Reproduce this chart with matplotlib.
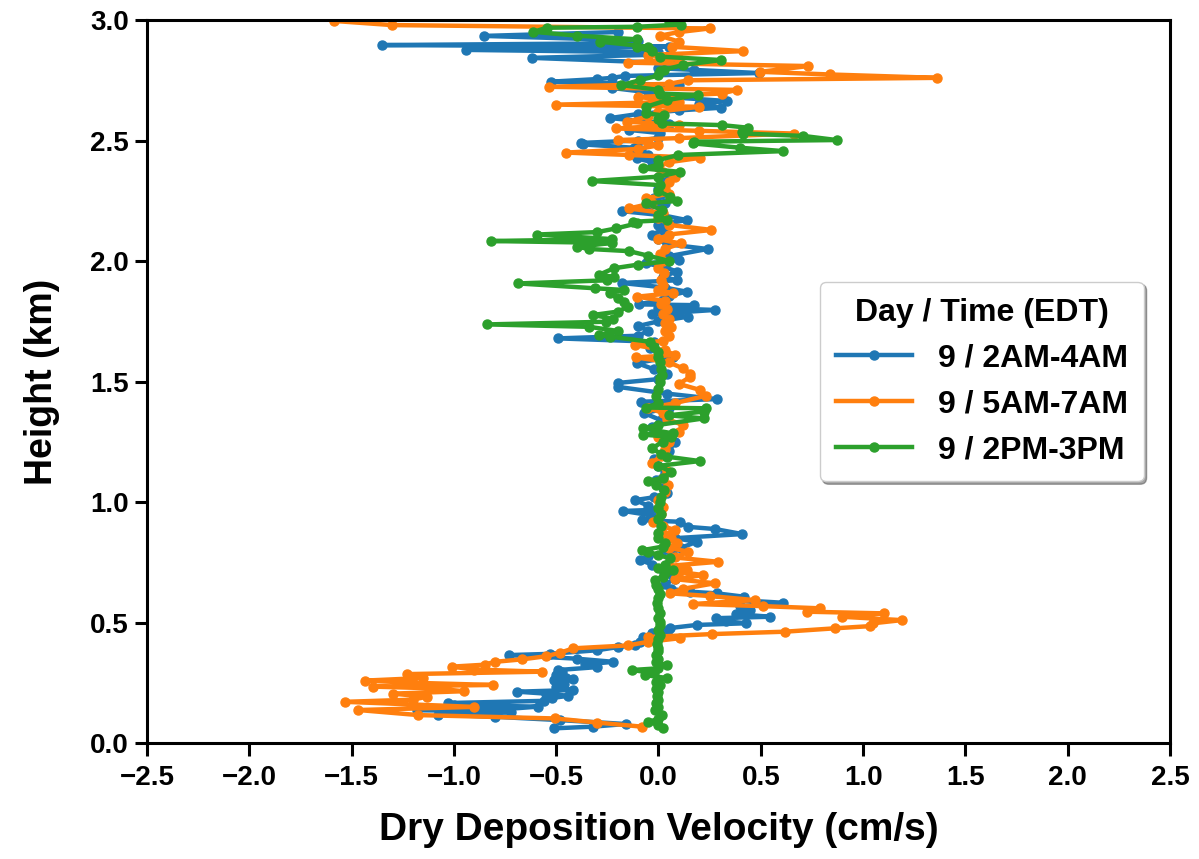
import numpy as np
import matplotlib.pyplot as plt

# ---------------------------------------------------------
# Profiles: (height km, velocity cm/s)
# ---------------------------------------------------------

labels = ["9 / 2AM-4AM", "9 / 5AM-7AM", "9 / 2PM-3PM"]

prof_2am = [
    (0.061, -0.51), (0.068, -0.32), (0.079, -0.16), (0.095, -0.48), (0.109, -0.80),
    (0.118, -1.08), (0.128, -0.72), (0.137, -1.18), (0.142, -0.73), (0.151, -0.59),
    (0.158, -1.00), (0.166, -1.03), (0.175, -0.56), (0.187, -0.52), (0.196, -0.44),
    (0.205, -0.55), (0.213, -0.69), (0.220, -0.42), (0.232, -0.50), (0.245, -0.46),
    (0.260, -0.51), (0.265, -0.42), (0.270, -0.45), (0.282, -0.50), (0.294, -0.47),
    (0.303, -0.49), (0.315, -0.30), (0.326, -0.36), (0.337, -0.22), (0.350, -0.40),
    (0.365, -0.73), (0.370, -0.53), (0.385, -0.30), (0.398, -0.20), (0.407, -0.115),
    (0.420, -0.09), (0.440, -0.076), (0.455, -0.03), (0.469, 0.047), (0.477, 0.055),
    (0.490, 0.187), (0.497, 0.43), (0.505, 0.33), (0.518, 0.28), (0.524, 0.545),
    (0.535, 0.38), (0.552, 0.447), (0.568, 0.40), (0.582, 0.61), (0.595, 0.35),
    (0.607, 0.42), (0.621, 0.285), (0.628, 0.154), (0.640, 0.06), (0.660, 0.03),
    (0.680, 0.08), (0.700, 0.06), (0.720, 0.02), (0.740, -0.03), (0.760, -0.09),
    (0.775, -0.05), (0.794, 0.064), (0.810, 0.11), (0.835, 0.187), (0.850, 0.08),
    (0.867, 0.41), (0.888, 0.276), (0.897, 0.144), (0.918, 0.105), (0.925, -0.082),
    (0.940, 0.00), (0.963, -0.173), (0.967, -0.04), (0.985, -0.05), (1.008, -0.115),
    (1.020, -0.02), (1.037, 0.04), (1.060, 0.02), (1.090, -0.01), (1.120, 0.03),
    (1.150, 0.00), (1.180, -0.02), (1.210, 0.05), (1.250, 0.08), (1.280, 0.02),
    (1.310, -0.03), (1.340, 0.01), (1.369, -0.07), (1.390, 0.05), (1.416, -0.087),
    (1.427, 0.286), (1.450, 0.04), (1.478, -0.20), (1.494, -0.20), (1.510, 0.00),
    (1.530, 0.04), (1.550, -0.02), (1.577, -0.106), (1.603, 0.07), (1.620, 0.02),
    (1.640, -0.04), (1.665, -0.02), (1.679, -0.49), (1.690, -0.10), (1.710, -0.05),
    (1.730, -0.10), (1.750, 0.00), (1.769, 0.144), (1.780, -0.03), (1.797, 0.276),
    (1.805, 0.00), (1.817, 0.173), (1.820, -0.097), (1.840, 0.02), (1.855, 0.05),
    (1.873, 0.137), (1.890, 0.03), (1.909, -0.18), (1.920, 0.09), (1.935, 0.02),
    (1.956, 0.09), (1.975, 0.03), (1.990, -0.06), (2.004, 0.10), (2.020, 0.05),
    (2.050, 0.24), (2.070, 0.04), (2.090, 0.00), (2.110, -0.03), (2.130, 0.02),
    (2.150, 0.00), (2.170, 0.137), (2.190, 0.02), (2.207, -0.18), (2.220, -0.05),
    (2.240, 0.03), (2.260, -0.02), (2.280, 0.01), (2.300, 0.00), (2.330, 0.02),
    (2.360, 0.03), (2.390, 0.00), (2.410, -0.03), (2.426, -0.106), (2.440, -0.05),
    (2.460, -0.087), (2.470, -0.12), (2.484, -0.37), (2.490, -0.38), (2.500, -0.10),
    (2.510, 0.00), (2.531, 0.006), (2.544, -0.144), (2.560, -0.05), (2.570, 0.05),
    (2.593, -0.237), (2.610, -0.10), (2.625, 0.10), (2.636, 0.306), (2.650, 0.20),
    (2.664, 0.333), (2.680, 0.05), (2.700, -0.05), (2.718, -0.227), (2.730, 0.10),
    (2.744, -0.527), (2.755, -0.30), (2.760, -0.227), (2.768, -0.164), (2.780, 0.49),
    (2.793, 0.173), (2.800, 0.00), (2.820, 0.10), (2.843, -0.62), (2.855, -0.05),
    (2.866, 0.00), (2.876, -0.94), (2.890, 0.05), (2.896, -1.35), (2.903, -0.257),
    (2.915, -0.10), (2.934, -0.854), (2.950, -0.20),
]

prof_5am = [
    (0.068, -0.082), (0.085, -0.30), (0.102, -0.506), (0.116, -1.174), (0.137, -1.467),
    (0.150, -0.90), (0.171, -1.532), (0.180, -1.20), (0.192, -1.133), (0.205, -1.30),
    (0.215, -0.95), (0.227, -1.10), (0.234, -1.394), (0.241, -0.81), (0.250, -1.20),
    (0.259, -1.435), (0.270, -1.15), (0.286, -1.231), (0.296, -0.571), (0.305, -0.90),
    (0.317, -1.01), (0.325, -0.85), (0.337, -0.80), (0.347, -0.669), (0.360, -0.55),
    (0.375, -0.48), (0.393, -0.416), (0.405, -0.15), (0.420, -0.05), (0.435, 0.105),
    (0.440, -0.05), (0.452, 0.26), (0.462, 0.618), (0.476, 0.862), (0.485, 1.033),
    (0.497, 1.05), (0.510, 1.189), (0.524, 0.895), (0.538, 1.10), (0.545, 0.724),
    (0.559, 0.789), (0.568, 0.512), (0.577, 0.17), (0.593, 0.472), (0.610, 0.252),
    (0.621, 0.056), (0.640, 0.12), (0.663, 0.276), (0.680, 0.08), (0.697, 0.219),
    (0.710, 0.10), (0.720, 0.138), (0.735, 0.05), (0.752, 0.292), (0.770, 0.08),
    (0.794, 0.146), (0.810, 0.05), (0.830, 0.09), (0.850, 0.06), (0.865, 0.03),
    (0.884, 0.08), (0.900, 0.02), (0.918, -0.025), (0.950, 0.01), (0.980, 0.02),
    (1.010, 0.00), (1.040, 0.03), (1.071, 0.048), (1.100, 0.02), (1.130, 0.04),
    (1.162, -0.032), (1.190, 0.01), (1.220, 0.03), (1.250, 0.05), (1.270, 0.00),
    (1.292, 0.10), (1.320, 0.118), (1.345, 0.04), (1.370, 0.02), (1.390, -0.05),
    (1.410, 0.08), (1.441, 0.231), (1.465, 0.203), (1.490, 0.10), (1.520, 0.156),
    (1.533, 0.156), (1.555, 0.118), (1.580, 0.05), (1.600, -0.11), (1.610, 0.08),
    (1.630, 0.03), (1.651, -0.115), (1.670, 0.02), (1.690, 0.05), (1.710, 0.03),
    (1.725, 0.06), (1.743, 0.034), (1.760, 0.05), (1.780, 0.02), (1.800, 0.04),
    (1.820, 0.01), (1.835, 0.03), (1.852, -0.106), (1.867, 0.07), (1.880, 0.00),
    (1.900, 0.02), (1.920, 0.01), (1.949, 0.025), (1.970, 0.00), (2.000, 0.02),
    (2.028, 0.006), (2.050, 0.03), (2.073, 0.109), (2.090, 0.00), (2.110, 0.05),
    (2.129, 0.259), (2.150, 0.05), (2.180, 0.00), (2.200, 0.02), (2.218, -0.144),
    (2.240, -0.03), (2.260, -0.06), (2.280, 0.05), (2.300, 0.03), (2.329, 0.051),
    (2.350, 0.08), (2.370, 0.02), (2.390, 0.00), (2.410, 0.05), (2.428, 0.203),
    (2.440, -0.144), (2.450, -0.452), (2.465, -0.10), (2.480, 0.00), (2.490, -0.05),
    (2.502, -0.20), (2.510, 0.10), (2.529, 0.661), (2.540, 0.20), (2.550, -0.209),
    (2.565, 0.10), (2.578, -0.155), (2.600, -0.05), (2.620, 0.00), (2.640, 0.20),
    (2.649, -0.499), (2.660, 0.10), (2.681, -0.099), (2.695, 0.309), (2.710, 0.382),
    (2.723, -0.536), (2.735, 0.05), (2.750, 0.146), (2.760, 1.36), (2.774, 0.838),
    (2.785, 0.496), (2.809, 0.732), (2.823, -0.15), (2.840, 0.10), (2.855, -0.05),
    (2.871, 0.415), (2.889, 0.064), (2.910, 0.10), (2.935, 0.007), (2.950, 0.10),
    (2.965, 0.25), (2.979, -1.303), (2.996, -1.584),
]

prof_2pm = [
    (0.061, 0.023), (0.075, 0.00), (0.088, -0.05), (0.100, 0.00), (0.116, 0.016),
    (0.137, -0.017), (0.150, 0.00), (0.165, -0.01), (0.180, 0.00), (0.195, -0.005),
    (0.210, 0.00), (0.225, -0.01), (0.240, 0.005), (0.255, -0.01), (0.270, 0.04),
    (0.282, -0.066), (0.290, -0.02), (0.303, -0.131), (0.310, 0.00), (0.324, 0.04),
    (0.335, -0.01), (0.350, 0.00), (0.365, -0.01), (0.380, 0.00), (0.395, 0.00),
    (0.410, -0.005), (0.430, 0.00), (0.450, 0.005), (0.470, 0.00), (0.490, 0.005),
    (0.503, 0.007), (0.520, 0.00), (0.540, 0.005), (0.560, 0.00), (0.580, -0.005),
    (0.600, 0.00), (0.620, 0.005), (0.640, 0.00), (0.655, -0.01), (0.676, -0.017),
    (0.690, 0.02), (0.705, 0.03), (0.720, 0.07), (0.725, 0.00), (0.740, 0.03),
    (0.766, 0.056), (0.780, 0.00), (0.794, -0.05), (0.800, -0.08), (0.815, 0.02),
    (0.830, 0.03), (0.850, 0.00), (0.870, 0.00), (0.900, 0.01), (0.930, 0.00),
    (0.950, 0.01), (0.975, 0.00), (1.001, 0.006), (1.020, 0.01), (1.050, 0.025),
    (1.070, -0.01), (1.087, -0.05), (1.100, 0.02), (1.126, 0.062), (1.150, 0.00),
    (1.170, 0.202), (1.188, 0.043), (1.200, 0.01), (1.223, -0.031), (1.250, 0.02),
    (1.270, 0.06), (1.280, -0.078), (1.285, 0.071), (1.306, -0.078), (1.320, 0.00),
    (1.347, 0.221), (1.360, 0.05), (1.375, 0.22), (1.389, 0.231), (1.392, -0.06),
    (1.410, 0.00), (1.440, -0.01), (1.470, 0.00), (1.500, 0.005), (1.513, 0.006),
    (1.527, 0.016), (1.550, 0.01), (1.582, 0.006), (1.600, 0.00), (1.624, -0.003),
    (1.645, -0.02), (1.665, -0.041), (1.686, -0.237), (1.693, -0.293), (1.710, -0.20),
    (1.727, -0.34), (1.737, -0.836), (1.748, -0.256), (1.760, -0.22), (1.776, -0.321),
    (1.790, -0.20), (1.810, -0.15), (1.831, -0.171), (1.845, -0.20), (1.866, -0.237),
    (1.880, -0.171), (1.887, -0.312), (1.907, -0.686), (1.920, -0.25), (1.935, -0.218),
    (1.942, -0.293), (1.970, -0.218), (1.985, -0.10), (2.000, 0.053), (2.022, -0.05),
    (2.041, -0.144), (2.050, -0.34), (2.059, -0.396), (2.075, -0.228), (2.083, -0.817),
    (2.091, -0.228), (2.110, -0.592), (2.120, -0.30), (2.135, -0.209), (2.156, -0.106),
    (2.163, -0.123), (2.170, 0.04), (2.190, 0.00), (2.212, 0.016), (2.239, -0.061),
    (2.249, 0.089), (2.267, 0.056), (2.290, 0.00), (2.315, 0.007), (2.332, -0.326),
    (2.350, 0.00), (2.370, 0.105), (2.384, -0.074), (2.400, 0.00), (2.419, -0.001),
    (2.440, 0.097), (2.456, 0.61), (2.470, 0.40), (2.488, 0.17), (2.495, 0.173),
    (2.502, 0.871), (2.519, 0.708), (2.529, 0.415), (2.537, 0.41), (2.553, 0.439),
    (2.564, 0.309), (2.571, 0.016), (2.590, 0.00), (2.604, 0.025), (2.613, -0.06),
    (2.640, -0.06), (2.668, 0.043), (2.689, 0.193), (2.695, 0.006), (2.710, 0.00),
    (2.730, -0.181), (2.751, -0.088), (2.770, 0.00), (2.790, 0.006), (2.793, 0.025),
    (2.813, 0.118), (2.834, 0.306), (2.848, 0.006), (2.870, -0.03), (2.887, -0.106),
    (2.889, -0.051), (2.910, -0.284), (2.920, -0.106), (2.935, -0.396), (2.951, -0.611),
    (2.968, -0.546), (2.972, -0.106), (2.981, 0.109), (2.995, 0.05),
]

colors = ["#1f77b4", "#ff7f0e", "#2ca02c"]

plt.rcParams['font.family'] = ['Liberation Sans', 'DejaVu Sans']
plt.rcParams['font.weight'] = 'bold'

fig = plt.figure(figsize=(11.99, 8.59), dpi=100)
ax = fig.add_axes([0.1226, 0.135, 0.8532, 0.8417])

for prof, lab, c in zip([prof_2am, prof_5am, prof_2pm], labels, colors):
    arr = np.array(prof)
    ax.plot(arr[:, 1], arr[:, 0], '-o', color=c, lw=3.2, ms=6.5, label=lab)

ax.set_xlim(-2.5, 2.5)
ax.set_ylim(0, 3.0)
ax.set_xticks(np.arange(-2.5, 2.51, 0.5))
ax.set_yticks(np.arange(0, 3.01, 0.5))
ax.set_xlabel("Dry Deposition Velocity (cm/s)", fontsize=28, fontweight='bold', labelpad=15)
ax.set_ylabel("Height (km)", fontsize=27, fontweight='bold', labelpad=22)
ax.tick_params(labelsize=20, width=2.2, length=9)
ax.tick_params(axis='x', pad=7)
ax.tick_params(axis='y', pad=4)
for lbl in ax.get_xticklabels() + ax.get_yticklabels():
    lbl.set_fontweight('bold')
for sp in ax.spines.values():
    sp.set_linewidth(2.2)

leg = ax.legend(title="Day / Time (EDT)", loc='center right',
                bbox_to_anchor=(0.99, 0.50), fontsize=23, title_fontsize=23,
                shadow=True, fancybox=True, framealpha=1, borderpad=0.5,
                labelspacing=0.5, handlelength=2.4, handletextpad=0.8)
leg.get_title().set_fontweight('bold')
for t in leg.get_texts():
    t.set_fontweight('bold')

fig.savefig("out.png", dpi=100)
